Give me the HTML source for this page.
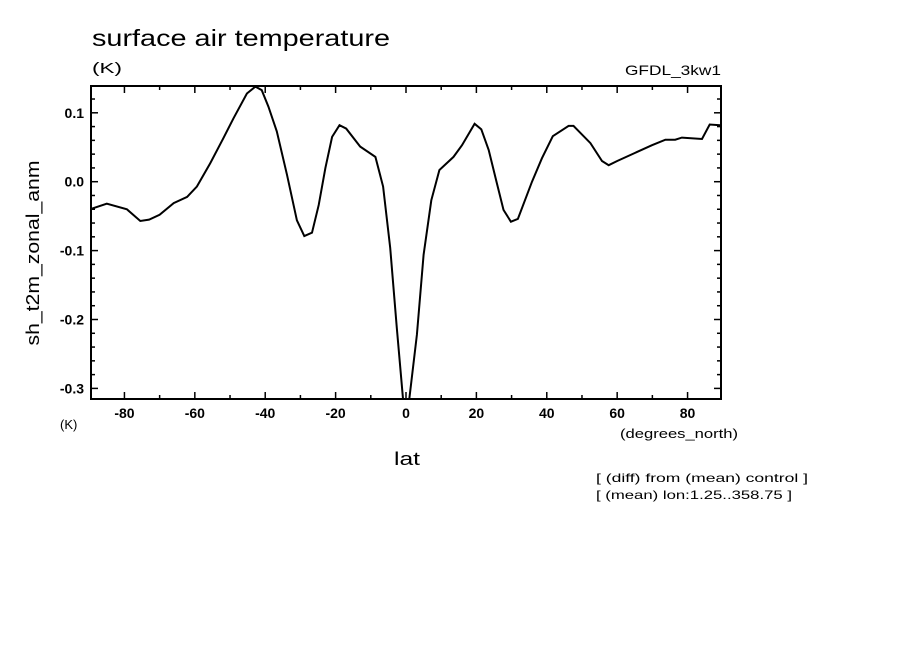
<!DOCTYPE html>
<html><head><meta charset="utf-8">
<style>
body{margin:0;background:#fff;}
svg text{font-family:"Liberation Sans",sans-serif;fill:#000;}
</style></head>
<body>
<svg id="chart" width="904" height="654" xmlns="http://www.w3.org/2000/svg">
<rect width="904" height="654" fill="#fff"/>
<text x="92" y="46" font-size="23" textLength="298" lengthAdjust="spacingAndGlyphs">surface air temperature</text>
<text x="92" y="73" font-size="15" textLength="30" lengthAdjust="spacingAndGlyphs">(K)</text>
<text x="625" y="75" font-size="14" textLength="96" lengthAdjust="spacingAndGlyphs">GFDL_3kw1</text>
<text transform="translate(39,253) rotate(-90)" font-size="18" text-anchor="middle" textLength="185" lengthAdjust="spacingAndGlyphs">sh_t2m_zonal_anm</text>
<text x="60" y="429" font-size="13">(K)</text>
<text x="620" y="438" font-size="13" textLength="118" lengthAdjust="spacingAndGlyphs">(degrees_north)</text>
<text x="394" y="465" font-size="18" textLength="26" lengthAdjust="spacingAndGlyphs">lat</text>
<text x="596" y="482" font-size="12" textLength="212" lengthAdjust="spacingAndGlyphs">[ (diff) from (mean) control ]</text>
<text x="596" y="499" font-size="12" textLength="196" lengthAdjust="spacingAndGlyphs">[ (mean) lon:1.25..358.75 ]</text>
<g id="axes"></g>
<clipPath id="clip"><rect x="91" y="86" width="630" height="313"/></clipPath>
<g id="series" clip-path="url(#clip)"></g>
<rect x="91" y="86" width="630" height="313" fill="none" stroke="#000" stroke-width="2"/>
</svg>
<script>
const lats = [-89.2,-85,-79.3,-75.5,-73,-70,-66,-62.2,-59.4,-55.6,-51.9,-49,-45.2,-42.8,-41,-39.1,-36.7,-33.8,-31,-28.9,-26.7,-24.8,-22.9,-21,-18.9,-17,-13,-8.7,-6.5,-4.5,-2.6,-0.6,0.6,3.1,5,7.2,9.5,13.5,15.9,19.5,21.4,23.5,25.7,27.7,29.8,31.8,35.8,38.6,41.7,46.2,47.6,52.4,55.7,57.6,60,64.7,69.9,73.7,76.5,78.4,84.1,86.3,89.3];
const values = [-0.039,-0.032,-0.040,-0.057,-0.055,-0.048,-0.031,-0.022,-0.007,0.027,0.063,0.092,0.128,0.138,0.133,0.109,0.073,0.010,-0.056,-0.079,-0.074,-0.034,0.020,0.065,0.082,0.077,0.051,0.036,-0.007,-0.096,-0.212,-0.33,-0.33,-0.222,-0.106,-0.027,0.017,0.036,0.053,0.084,0.076,0.046,0.0,-0.041,-0.058,-0.054,0.0,0.034,0.066,0.081,0.081,0.056,0.030,0.024,0.030,0.041,0.053,0.061,0.061,0.064,0.062,0.083,0.082];
const xTicks = [-80,-60,-40,-20,0,20,40,60,80];
const xTickLabels = ["-80","-60","-40","-20","0","20","40","60","80"];
const yTicks = [0.1,0.0,-0.1,-0.2,-0.3];
const yTickLabels = ["0.1","0.0","-0.1","-0.2","-0.3"];
const L=91,R=721,T=86,B=399;
const xMin=-89.5,xMax=89.5;
function xs(v){return L+(v-xMin)/(xMax-xMin)*(R-L);}
function ys(v){return 181.7-(v)*689;}
const NS="http://www.w3.org/2000/svg";
const ax=document.getElementById('axes');
function line(x1,y1,x2,y2,name){const l=document.createElementNS(NS,'line');l.setAttribute('x1',x1);l.setAttribute('y1',y1);l.setAttribute('x2',x2);l.setAttribute('y2',y2);l.setAttribute('stroke','#000');l.setAttribute('stroke-width','1.5');


ax.appendChild(l);}
for(let v=-80;v<=80;v+=10){const x=xs(v);const len=(v%20===0)?7:4;line(x,B,x,B-len,'x-tick');line(x,T,x,T+len,'x-tick-top');}
for(let i=-15;i<=6;i++){const v=i*0.02;const y=ys(v);if(y<T||y>B)continue;const len=(i%5===0)?7:4;line(L,y,L+len,y,'y-tick');line(R,y,R-len,y,'y-tick-right');}
xTicks.forEach((v,i)=>{const t=document.createElementNS(NS,'text');t.setAttribute('x',xs(v));t.setAttribute('y',418);t.setAttribute('font-size','14');t.setAttribute('font-weight','bold');t.setAttribute('text-anchor','middle');t.textContent=xTickLabels[i];


ax.appendChild(t);});
yTicks.forEach((v,i)=>{const t=document.createElementNS(NS,'text');t.setAttribute('x',84);t.setAttribute('y',ys(v)+5);t.setAttribute('font-size','14');t.setAttribute('font-weight','bold');t.setAttribute('text-anchor','end');t.textContent=yTickLabels[i];


ax.appendChild(t);});
const p=document.createElementNS(NS,'polyline');
p.setAttribute('points',lats.map((v,i)=>xs(v).toFixed(1)+','+ys(values[i]).toFixed(1)).join(' '));
p.setAttribute('fill','none');p.setAttribute('stroke','#000');p.setAttribute('stroke-width','2');


document.getElementById('series').appendChild(p);
</script>
</body></html>
